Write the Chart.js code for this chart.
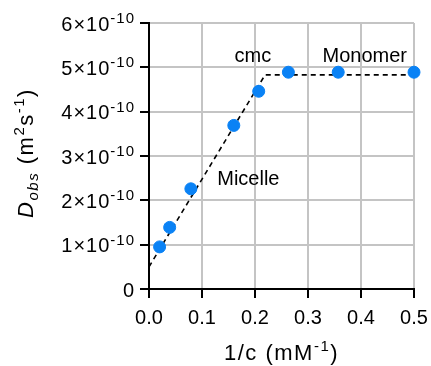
<!DOCTYPE html>
<html>
<head>
<meta charset="utf-8">
<script src="https://cdn.jsdelivr.net/npm/chart.js@4/dist/chart.umd.min.js"></script>
<style>
  html, body { margin: 0; padding: 0; background: #fff; }
  #wrap { width: 431px; height: 366px; }
</style>
</head>
<body>
<div id="wrap"><canvas id="c" width="431" height="366"></canvas></div>
<script>
// measured points, 1/c (mM^-1) vs D_obs (m^2 s^-1)
const invConc = [0.02, 0.039, 0.079, 0.160, 0.207, 0.263, 0.357, 0.5];
const dObs = [0.95e-10, 1.39e-10, 2.26e-10, 3.69e-10, 4.46e-10, 4.89e-10, 4.89e-10, 4.89e-10];

// dashed guide: micelle slope then monomer plateau
const fitX = [0, 0.219, 0.5];
const fitY = [0.5e-10, 4.83e-10, 4.83e-10];

const xTicks = [0, 0.1, 0.2, 0.3, 0.4, 0.5];
const yTickMantissa = [0, 1, 2, 3, 4, 5, 6];

const notes = [
    { text: 'cmc', x: 0.196, y: 5.12e-10 },
    { text: 'Monomer', x: 0.407, y: 5.12e-10 },
    { text: 'Micelle', x: 0.1875, y: 2.35e-10 }
];

const FONT = '"Liberation Sans", Arial, sans-serif';
const BLUE = '#0a82f5';

// draw a run of [text, size, italic, shift] pieces, left to right
function setRunFont(ctx, r) {
    ctx.font = (r[2] ? 'italic ' : '') + r[1] + 'px ' + FONT;
}
function drawRuns(ctx, runs, x, y) {
    runs.forEach(r => {
        setRunFont(ctx, r);
        ctx.fillText(r[0], x, y + r[3]);
        x += ctx.measureText(r[0]).width;
    });
}
function runsWidth(ctx, runs) {
    let w = 0;
    runs.forEach(r => {
        setRunFont(ctx, r);
        w += ctx.measureText(r[0]).width;
    });
    return w;
}

const textPlugin = {
    id: 'texts',
    afterDraw(chart) {
        const ctx = chart.ctx;
        const xs = chart.scales.x, ys = chart.scales.y;
        ctx.save();
        ctx.fillStyle = '#000';
        ctx.textBaseline = 'alphabetic';
        ctx.textAlign = 'left';
        ctx.letterSpacing = '1px';

        // y tick labels with superscript exponent
        yTickMantissa.forEach(m => {
            const py = ys.getPixelForValue(m * 1e-10);
            const runs = m === 0 ? [['0', 20, false, 0]]
                : [[m + '\u00d710', 20, false, 0], ['-10', 15, false, -7.5]];
            const w = runsWidth(ctx, runs);
            drawRuns(ctx, runs, 135 - w, py + 7.5);
        });

        ctx.letterSpacing = '1.5px';
        // x title
        const xr = [['1/c (mM', 22, false, 0], ['-1', 15, false, -9], [')', 22, false, 0]];
        const xw = runsWidth(ctx, xr);
        drawRuns(ctx, xr, (chart.chartArea.left + chart.chartArea.right) / 2 - xw / 2, 360);

        // y title, rotated
        const yr = [['D', 22, true, 0], ['obs', 15, true, 5], [' (m', 22, false, 0],
            ['2', 15, false, -9], ['s', 22, false, 0], ['-1', 15, false, -9], [')', 22, false, 0]];
        const yw = runsWidth(ctx, yr);
        ctx.translate(33, 153);
        ctx.rotate(-Math.PI / 2);
        drawRuns(ctx, yr, -yw / 2, 0);
        ctx.letterSpacing = '0px';
        ctx.restore();

        // annotations
        ctx.save();
        ctx.fillStyle = '#000';
        ctx.font = '20px ' + FONT;
        ctx.textAlign = 'center';
        notes.forEach(n => {
            ctx.fillText(n.text, xs.getPixelForValue(n.x), ys.getPixelForValue(n.y));
        });
        ctx.restore();
    }
};

new Chart(document.getElementById('c'), {
    type: 'scatter',
    data: {
        datasets: [
            {
                data: invConc.map((x, i) => ({ x: x, y: dObs[i] })),
                backgroundColor: BLUE,
                borderColor: BLUE,
                pointRadius: 6,
                clip: false,
                order: 0
            },
            {
                data: fitX.map((x, i) => ({ x: x, y: fitY[i] })),
                showLine: true,
                borderColor: '#000',
                borderWidth: 1.6,
                borderDash: [5, 4],
                pointRadius: 0,
                clip: false,
                order: 1
            }
        ]
    },
    options: {
        responsive: false,
        animation: false,
        layout: { padding: { top: 23, right: 17, left: 0, bottom: 0 } },
        plugins: { legend: { display: false }, tooltip: { enabled: false } },
        scales: {
            x: {
                type: 'linear',
                min: 0, max: 0.5,
                afterBuildTicks: s => { s.ticks = xTicks.map(v => ({ value: v })); },
                afterFit: s => { s.height = 77; s.paddingLeft = 0; s.paddingRight = 0; },
                grid: { color: '#c4c4c4', lineWidth: 2, tickColor: '#000', tickWidth: 2, tickLength: 9 },
                border: { color: '#000', width: 2 },
                ticks: {
                    color: '#000', padding: 8,
                    font: { family: FONT, size: 20 },
                    callback: v => v.toFixed(1)
                }
            },
            y: {
                type: 'linear',
                min: 0, max: 6e-10,
                afterBuildTicks: s => { s.ticks = yTickMantissa.map(m => ({ value: m * 1e-10 })); },
                afterFit: s => { s.width = 149; s.paddingTop = 0; s.paddingBottom = 0; },
                grid: { color: '#c4c4c4', lineWidth: 2, tickColor: '#000', tickWidth: 2, tickLength: 9 },
                border: { color: '#000', width: 2 },
                ticks: { display: false }
            }
        }
    },
    plugins: [textPlugin]
});
</script>
</body>
</html>
